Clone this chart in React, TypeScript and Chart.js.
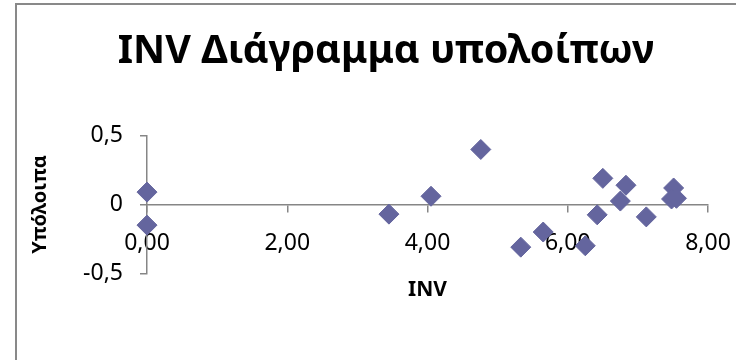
import React, { useEffect, useRef } from "react";
import { Chart, registerables } from "chart.js";

Chart.register(...registerables);

// Residuals of the INV regression
const invValues = [0, 0, 3.45, 4.05, 4.76, 5.33, 5.65, 6.25, 6.42, 6.5, 6.75, 6.83, 7.12, 7.51, 7.48, 7.55];
const residuals = [0.09, -0.15, -0.07, 0.06, 0.4, -0.31, -0.2, -0.3, -0.075, 0.19, 0.025, 0.14, -0.09, 0.12, 0.04, 0.045];

const chartTitle = "INV Διάγραμμα υπολοίπων";
const xTitle = "INV";
const yTitle = "Υπόλοιπα";

const xRange = [0, 8];
const xStep = 2;
const yRange = [-0.5, 0.5];
const yStep = 0.5;

const pointColor = "#64659E";
const axisColor = "#868686";
const frameColor = "#898989";
const fontFamily = "'Noto Sans', 'DejaVu Sans', sans-serif";

// The chart object is wider than the visible window; its right part is cut off
const canvasWidth = 776;
const canvasHeight = 360;

// White background plus the outer frame of the chart object
const framePlugin = {
  id: "frame",
  beforeDraw(chart: Chart) {
    const { ctx, width, height } = chart;
    ctx.save();
    ctx.fillStyle = "#ffffff";
    ctx.fillRect(0, 0, width, height);
    ctx.strokeStyle = frameColor;
    ctx.lineWidth = 2;
    ctx.strokeRect(16, 4, width + 40, height + 40);
    ctx.restore();
  },
};

export default function App() {
  const canvasRef = useRef<HTMLCanvasElement | null>(null);

  useEffect(() => {
    if (!canvasRef.current) return;
    const points = invValues.map((x, i) => ({ x, y: residuals[i] }));
    const chart = new Chart(canvasRef.current, {
      type: "scatter",
      data: {
        datasets: [
          {
            data: points,
            pointStyle: "rectRot",
            pointRadius: 10,
            pointHoverRadius: 10,
            backgroundColor: pointColor,
            borderColor: pointColor,
            borderWidth: 1,
            clip: false,
          },
        ],
      },
      plugins: [framePlugin],
      options: {
        responsive: false,
        animation: false,
        layout: { padding: { top: 7, left: 16, right: 20, bottom: 86.7 } },
        font: { family: fontFamily },
        plugins: {
          legend: { display: false },
          tooltip: { enabled: false },
          title: {
            display: true,
            text: chartTitle,
            color: "#000",
            font: { family: fontFamily, size: 39.5, weight: "bold" },
            padding: { top: 21, bottom: 60.3 },
          },
        },
        scales: {
          x: {
            type: "linear",
            position: { y: 0 },
            min: xRange[0],
            max: xRange[1],
            afterFit: (scale: any) => {
              // keep the plot's right edge where the axis should end
              scale.paddingRight = 68;
            },
            ticks: {
              stepSize: xStep,
              color: "#000",
              padding: 18,
              font: { family: fontFamily, size: 23 },
              callback: (v: any) => Number(v).toFixed(2).replace(".", ","),
            },
            grid: { drawOnChartArea: false, drawTicks: true, tickLength: 7, color: axisColor, lineWidth: 1.5 },
            border: { display: true, color: axisColor, width: 1.5 },
            title: {
              display: true,
              text: xTitle,
              color: "#000",
              font: { family: fontFamily, size: 21, weight: "bold" },
              padding: { top: 2, bottom: 0 },
            },
          },
          y: {
            type: "linear",
            position: "left",
            min: yRange[0],
            max: yRange[1],
            afterFit: (scale: any) => {
              scale.width = 131;
            },
            ticks: {
              stepSize: yStep,
              color: "#000",
              padding: 17,
              font: { family: fontFamily, size: 23 },
              callback: (v: any) => (Number(v) === 0 ? "0" : Number(v).toFixed(1).replace(".", ",")),
            },
            grid: { drawOnChartArea: false, drawTicks: true, tickLength: 7, color: axisColor, lineWidth: 1.5 },
            border: { display: true, color: axisColor, width: 1.5 },
            title: {
              display: true,
              text: yTitle,
              color: "#000",
              font: { family: fontFamily, size: 20, weight: "bold" },
              padding: { top: 12, bottom: 0 },
            },
          },
        },
      },
    } as any);
    return () => chart.destroy();
  }, []);

  return (
    <div style={{ position: "absolute", left: 0, top: 0, width: 736, height: 360, overflow: "hidden" }}>
      <canvas ref={canvasRef} width={canvasWidth} height={canvasHeight} style={{ display: "block" }} />
    </div>
  );
}
